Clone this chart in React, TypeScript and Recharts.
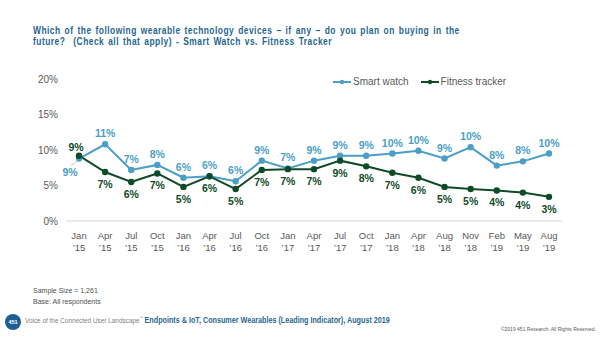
import React from 'react';
import { Legend, LabelList, Line, LineChart, XAxis, YAxis } from 'recharts';

const categories = [
  'Jan ’15', 'Apr ’15', 'Jul ’15', 'Oct ’15', 'Jan ’16', 'Apr ’16', 'Jul ’16', 'Oct ’16',
  'Jan ’17', 'Apr ’17', 'Jul ’17', 'Oct ’17', 'Jan ’18', 'Apr ’18', 'Aug ’18', 'Nov ’18',
  'Feb ’19', 'May ’19', 'Aug ’19',
];
const smartWatch = [8.8, 10.8, 7.2, 7.9, 6.1, 6.3, 5.6, 8.5, 7.4, 8.5, 9.2, 9.2, 9.5, 9.9, 8.8, 10.4, 7.8, 8.4, 9.5];
const fitnessTracker = [9.2, 6.9, 5.5, 6.7, 4.8, 6.3, 4.5, 7.2, 7.3, 7.3, 8.5, 7.7, 6.8, 6.1, 4.8, 4.5, 4.3, 4.0, 3.4];
const yTicks = [0, 5, 10, 15, 20];

const SW_COLOR = '#4a9fc6';
const FT_COLOR = '#0f4b28';
const GREY = '#595959';
const TITLE_BLUE = '#1f6790';

const data = categories.map((name, i) => ({ name, smart: smartWatch[i], fitness: fitnessTracker[i] }));

const XTick = (props: any) => {
  const { x, y, payload } = props;
  const [month, year] = String(payload.value).split(' ');
  return (
    <g transform={`translate(${x},${y})`}>
      <text textAnchor="middle" fill={GREY} fontSize={9.5} y={10}>{month}</text>
      <text textAnchor="middle" fill={GREY} fontSize={9.5} y={22}>{year}</text>
    </g>
  );
};

const makeLabel = (color: string, below: boolean) => (props: any) => {
  const { x, y, value, index } = props;
  const txt = `${Math.round(value)}%`;
  if (index === 0 && !below) {
    // first smart watch label sits below-left with a small leader line
    return (
      <g>
        <line x1={x - 1} y1={y + 2} x2={x - 8} y2={y + 7} stroke="#bfbfbf" strokeWidth={0.8} />
        <text x={x - 9} y={y + 17} textAnchor="middle" fill={color} fontSize={10.5} fontWeight="bold">{txt}</text>
      </g>
    );
  }
  if (index === 0 && below) {
    return (
      <text x={x - 3} y={y - 5} textAnchor="middle" fill={color} fontSize={10.5} fontWeight="bold">{txt}</text>
    );
  }
  return (
    <text x={x} y={below ? y + 16 : y - 7} textAnchor="middle" fill={color} fontSize={10.5} fontWeight="bold">
      {txt}
    </text>
  );
};

const LegendContent = () => {
  const items = [
    { label: 'Smart watch', color: SW_COLOR },
    { label: 'Fitness tracker', color: FT_COLOR },
  ];
  return (
    <div style={{ display: 'flex', alignItems: 'center', fontFamily: 'Liberation Sans, Arial, sans-serif', fontSize: 10, color: GREY }}>
      {items.map((it) => (
        <div key={it.label} style={{ display: 'flex', alignItems: 'center', marginRight: 12 }}>
          <svg width={18} height={8} style={{ marginRight: 2 }}>
            <line x1={0} y1={4} x2={18} y2={4} stroke={it.color} strokeWidth={2} />
            <circle cx={9} cy={4} r={2.2} fill={it.color} />
          </svg>
          <span>{it.label}</span>
        </div>
      ))}
    </div>
  );
};

const App: React.FC = () => {
  return (
    <div
      style={{
        position: 'absolute',
        top: 0,
        left: 0,
        width: 600,
        height: 340,
        background: '#fff',
        fontFamily: 'Liberation Sans, Arial, sans-serif',
        overflow: 'hidden',
      }}
    >
      <div
        style={{
          position: 'absolute',
          left: 33,
          top: 25,
          color: TITLE_BLUE,
          fontWeight: 'bold',
          fontSize: 10.5,
          lineHeight: '11px',
          letterSpacing: 0.6,
          wordSpacing: 1.5,
          whiteSpace: 'nowrap',
          transform: 'scaleX(0.8)',
          transformOrigin: 'left top',
        }}
      >
        Which of the following wearable technology devices – if any – do you plan on buying in the
        <br />
        future?&nbsp; (Check all that apply) - Smart Watch vs. Fitness Tracker
      </div>

      <div style={{ position: 'absolute', left: 0, top: 0 }}>
        <LineChart width={600} height={340} data={data} margin={{ top: 79, right: 38, bottom: 89, left: 26 }}>
          <XAxis
            dataKey="name"
            interval={0}
            height={30}
            padding={{ left: 13, right: 13 }}
            tickLine={false}
            axisLine={{ stroke: '#d9d9d9' }}
            tick={<XTick />}
          />
          <YAxis
            width={40}
            domain={[0, 20]}
            ticks={yTicks}
            axisLine={false}
            tickLine={false}
            tick={{ fill: GREY, fontSize: 10 }}
            tickFormatter={(v) => `${v}%`}
          />
          <Legend
            layout="horizontal"
            verticalAlign="middle"
            align="center"
            content={<LegendContent />}
            wrapperStyle={{ top: 76, left: 333, width: 'auto' }}
          />
          <Line
            dataKey="smart"
            name="Smart watch"
            stroke={SW_COLOR}
            strokeWidth={2}
            dot={{ r: 2.2, fill: SW_COLOR, stroke: SW_COLOR }}
            isAnimationActive={false}
          >
            <LabelList dataKey="smart" content={makeLabel(SW_COLOR, false)} />
          </Line>
          <Line
            dataKey="fitness"
            name="Fitness tracker"
            stroke={FT_COLOR}
            strokeWidth={2}
            dot={{ r: 2.2, fill: FT_COLOR, stroke: FT_COLOR }}
            isAnimationActive={false}
          >
            <LabelList dataKey="fitness" content={makeLabel(FT_COLOR, true)} />
          </Line>
        </LineChart>
      </div>

      <div style={{ position: 'absolute', left: 33, top: 285, fontSize: 7, color: '#505050', lineHeight: '11px' }}>
        Sample Size = 1,261
        <br />
        Base: All respondents
      </div>

      <div
        style={{
          position: 'absolute',
          left: 5,
          top: 314,
          width: 16,
          height: 16,
          borderRadius: '50%',
          background: '#1c5f95',
          color: '#fff',
          fontSize: 5.5,
          fontWeight: 'bold',
          textAlign: 'center',
          lineHeight: '16px',
        }}
      >
        451
      </div>
      <div
        style={{
          position: 'absolute',
          left: 25,
          top: 315,
          fontSize: 8,
          color: '#7f7f7f',
          whiteSpace: 'nowrap',
          transform: 'scaleX(0.8)',
          transformOrigin: 'left top',
        }}
      >
        Voice of the Connected User Landscape<sup style={{ fontSize: 4 }}>™</sup>{' '}
        <span style={{ color: TITLE_BLUE, fontWeight: 'bold', fontSize: 9 }}>
          Endpoints &amp; IoT, Consumer Wearables (Leading Indicator), August 2019
        </span>
      </div>
      <div style={{ position: 'absolute', right: 4, top: 326, fontSize: 5, color: '#595959' }}>
        ©2019 451 Research. All Rights Reserved.
      </div>
    </div>
  );
};

export default App;
